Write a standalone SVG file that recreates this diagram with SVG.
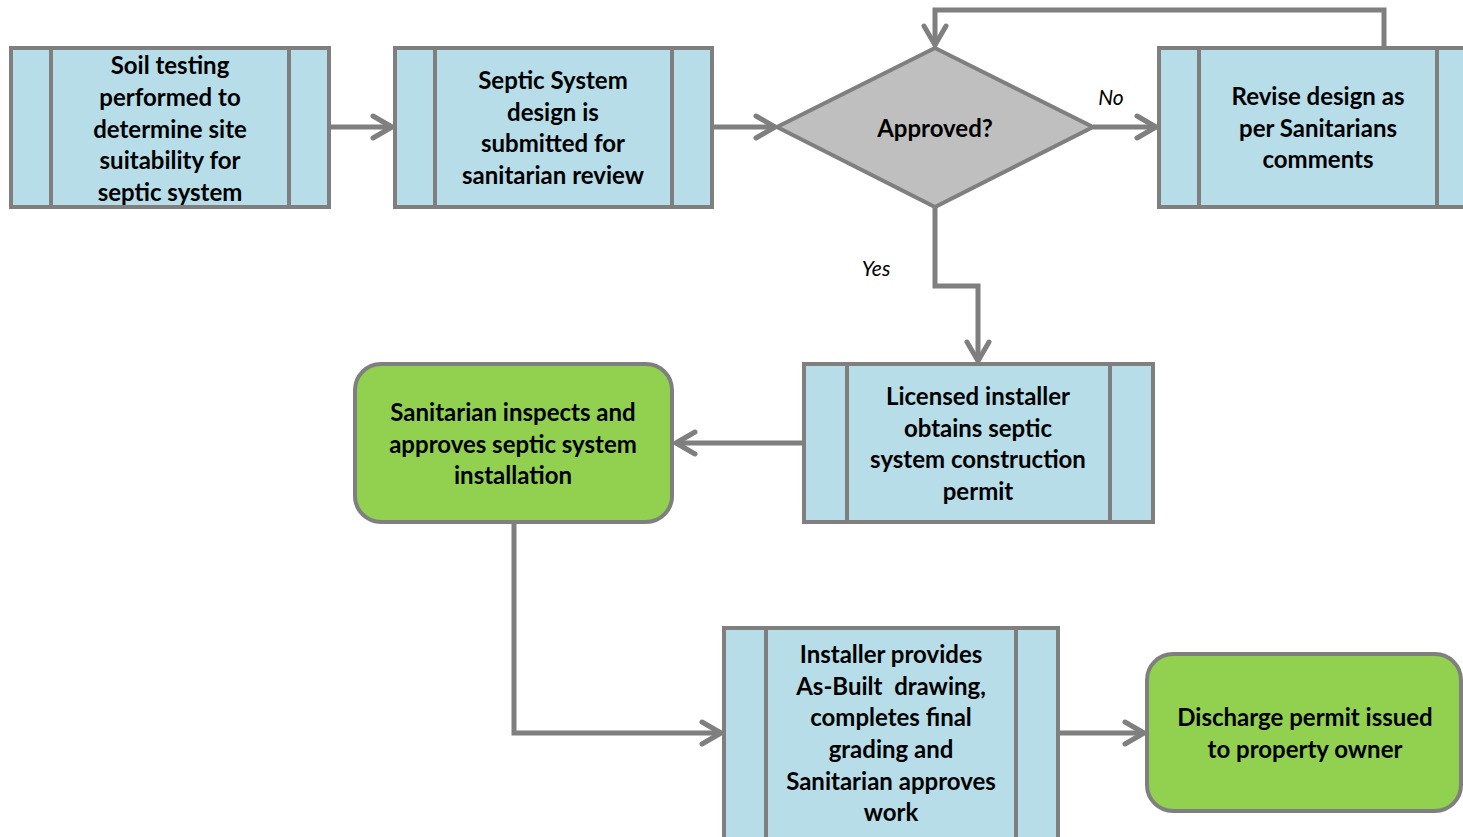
<svg xmlns="http://www.w3.org/2000/svg" width="1463" height="837" viewBox="0 0 1463 837">
<style>
.box{fill:#B7DDE8;stroke:#7F7F7F;stroke-width:4}
.in{stroke:#7F7F7F;stroke-width:4}
.dec{fill:#BFBFBF;stroke:#7F7F7F;stroke-width:4;stroke-linejoin:miter}
.term{fill:#92D050;stroke:#7F7F7F;stroke-width:4}
.t{font-family:Lato,"Liberation Sans",sans-serif;font-weight:bold;font-size:24px;fill:#000;text-anchor:middle}
.lbl{font-family:Lato,"Liberation Sans",sans-serif;font-style:italic;font-size:21px;fill:#000;text-anchor:middle}
.c{fill:none;stroke:#7F7F7F;stroke-width:5;marker-end:url(#ah)}
</style>
<defs>
<marker id="ah" markerUnits="userSpaceOnUse" viewBox="-24 -16 28 32" refX="0" refY="0" markerWidth="28" markerHeight="32" orient="auto" overflow="visible">
<path d="M -19 -11 L 0 0 L -19 11" fill="none" stroke="#7F7F7F" stroke-width="5" stroke-linecap="round" stroke-linejoin="round"/>
</marker>
</defs>
<rect width="1463" height="837" fill="#fff"/>
<g id="connectors">
<path class="c" d="M 329 127 H 392"/>
<path class="c" d="M 712 127 H 775"/>
<path class="c" d="M 1093 127 H 1156"/>
<path class="c" d="M 1384 48 V 10 H 935 V 45"/>
<path class="c" d="M 935 207 V 286 H 978 V 361"/>
<path class="c" d="M 804 443 H 676"/>
<path class="c" d="M 514 522 V 733 H 721"/>
<path class="c" d="M 1058 733 H 1144"/>
<text class="lbl" x="1111" y="105">No</text>
<text class="lbl" x="876" y="276">Yes</text>
</g>
<g id="n1">
<rect class="box" x="11" y="48" width="318" height="159"/>
<line class="in" x1="51" y1="48" x2="51" y2="207"/>
<line class="in" x1="289" y1="48" x2="289" y2="207"/>
<text class="t" x="170" y="74">Soil testing</text>
<text class="t" x="170" y="106">performed to</text>
<text class="t" x="170" y="138">determine site</text>
<text class="t" x="170" y="169">suitability for</text>
<text class="t" x="170" y="201">septic system</text>
</g>
<g id="n2">
<rect class="box" x="395" y="48" width="317" height="159"/>
<line class="in" x1="435" y1="48" x2="435" y2="207"/>
<line class="in" x1="672" y1="48" x2="672" y2="207"/>
<text class="t" x="553" y="89">Septic System</text>
<text class="t" x="553" y="121">design is</text>
<text class="t" x="553" y="152">submitted for</text>
<text class="t" x="553" y="184">sanitarian review</text>
</g>
<g id="n3">
<polygon class="dec" points="935,48 1093,127 935,207 777,127"/>
<text class="t" x="935" y="137">Approved?</text>
</g>
<g id="n4">
<rect class="box" x="1159" y="48" width="310" height="159"/>
<line class="in" x1="1199" y1="48" x2="1199" y2="207"/>
<line class="in" x1="1437" y1="48" x2="1437" y2="207"/>
<text class="t" x="1318" y="105">Revise design as</text>
<text class="t" x="1318" y="137">per Sanitarians</text>
<text class="t" x="1318" y="168">comments</text>
</g>
<g id="n5">
<rect class="box" x="804" y="364" width="349" height="158"/>
<line class="in" x1="847" y1="364" x2="847" y2="522"/>
<line class="in" x1="1110" y1="364" x2="1110" y2="522"/>
<text class="t" x="978" y="405">Licensed installer</text>
<text class="t" x="978" y="437">obtains septic</text>
<text class="t" x="978" y="468">system construction</text>
<text class="t" x="978" y="500">permit</text>
</g>
<g id="n6">
<rect class="term" x="355" y="364" width="317" height="158" rx="26"/>
<text class="t" x="513" y="421">Sanitarian inspects and</text>
<text class="t" x="513" y="453">approves septic system</text>
<text class="t" x="513" y="484">installation</text>
</g>
<g id="n7">
<rect class="box" x="724" y="628" width="334" height="220"/>
<line class="in" x1="766" y1="628" x2="766" y2="848"/>
<line class="in" x1="1016" y1="628" x2="1016" y2="848"/>
<text class="t" x="891" y="663">Installer provides</text>
<text class="t" x="891" y="695" xml:space="preserve" style="white-space:pre">As-Built  drawing,</text>
<text class="t" x="891" y="726">completes final</text>
<text class="t" x="891" y="758">grading and</text>
<text class="t" x="891" y="790">Sanitarian approves</text>
<text class="t" x="891" y="821">work</text>
</g>
<g id="n8">
<rect class="term" x="1147" y="654" width="314" height="157" rx="26"/>
<text class="t" x="1305" y="726">Discharge permit issued</text>
<text class="t" x="1305" y="758">to property owner</text>
</g>
</svg>
